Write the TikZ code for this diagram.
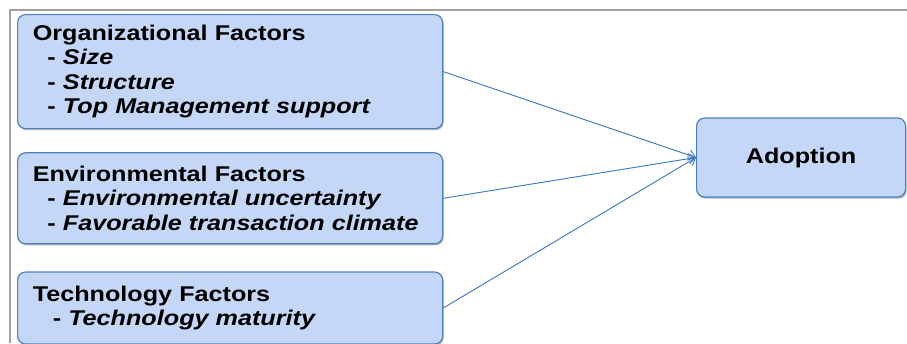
\documentclass[tikz,border=0pt]{standalone}
\usepackage{fontspec}
\newfontfamily\boxfont{Liberation Sans}[FakeStretch=1.18]
\usetikzlibrary{positioning,shadows,arrows.meta}
\definecolor{boxfill}{HTML}{C5D7F7}
\definecolor{boxline}{HTML}{4F81BD}
\definecolor{arrowblue}{HTML}{3E78BD}
\definecolor{framegray}{HTML}{A0A0A0}
\newcommand{\factoritem}[2][11pt]{\hspace*{#1}- \textit{#2}}
\tikzset{
  roundbox/.style={rectangle, rounded corners=6pt, draw=boxline, line width=0.9pt,
    fill=boxfill, drop shadow={shadow xshift=0.8pt, shadow yshift=-1.2pt, fill=black, opacity=0.3},
    font=\boxfont\bfseries\fontsize{16}{18.4}\selectfont},
  factorbox/.style={roundbox, minimum width=318.75pt, text width=296pt, inner xsep=11.4pt,
    align=left, anchor=north west},
  adoptbox/.style={roundbox, minimum width=156.75pt, minimum height=59.25pt, align=center},
  link/.style={draw=arrowblue, line width=0.7pt, -{Straight Barb[length=5pt,width=8pt]}}
}
\begin{document}
\begin{tikzpicture}[x=0.75pt, y=-0.75pt]
  \useasboundingbox (0,0) rectangle (907,343);

  % frame
  \draw[framegray, line width=1.1pt] (10,343) -- (10,10) -- (907,10);

  % Define nodes
  \node[factorbox, minimum height=85.5pt] (org) at (17,14)
    {Organizational Factors\\ \factoritem{Size}\\ \factoritem{Structure}\\ \factoritem{Top Management support}};

  \node[factorbox, minimum height=68.25pt, below=17.25pt of org] (env)
    {Environmental Factors\\ \factoritem{Environmental uncertainty}\\ \factoritem{Favorable transaction climate}};

  \node[factorbox, minimum height=54pt, below=20.25pt of env] (tech)
    {Technology Factors\\ \factoritem[15pt]{Technology maturity}};

  \node[adoptbox, anchor=west] (adopt) at (696,157.5) {Adoption};

  % Factors --> Adoption
  \draw[link] (org.east) -- (adopt.west);
  \draw[link] (env.east) -- (adopt.west);
  \draw[link] (tech.east) -- (adopt.west);

\end{tikzpicture}
\end{document}
